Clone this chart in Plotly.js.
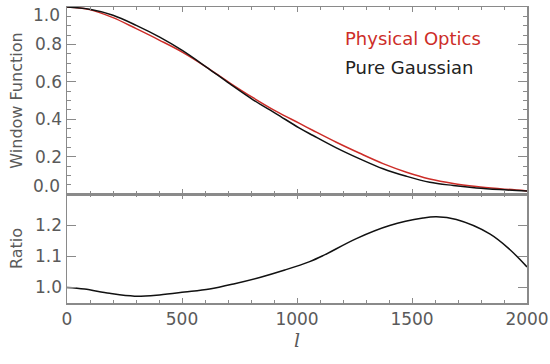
<!DOCTYPE html>
<html>
<head>
<meta charset="utf-8">
<script src="https://cdn.plot.ly/plotly-3.0.1.min.js"></script>
<style>
  html, body { margin: 0; padding: 0; background: #fff; }
  #chart { width: 550px; height: 364px; }
</style>
</head>
<body>
<div id="chart"></div>
<script>
// window functions
var ellTop = [0, 98, 200, 301, 403, 501, 606, 707, 809, 910, 1009, 1070, 1171, 1273, 1374, 1476, 1577, 1679, 1780, 1882, 2000];
var gaussian = [1.0, 0.988, 0.956, 0.902, 0.839, 0.768, 0.679, 0.590, 0.504, 0.429, 0.354, 0.313, 0.247, 0.188, 0.135, 0.095, 0.063, 0.046, 0.033, 0.024, 0.016];
var physOptics = [1.0, 0.986, 0.943, 0.884, 0.822, 0.759, 0.679, 0.595, 0.515, 0.442, 0.379, 0.340, 0.277, 0.218, 0.163, 0.117, 0.081, 0.057, 0.041, 0.029, 0.017];

// ratio
var ellRatio = [0, 76, 185, 294, 402, 511, 620, 729, 838, 947, 1055, 1113, 1258, 1403, 1548, 1606, 1693, 1838, 1925, 2000];
var ratio = [1.0, 0.995, 0.981, 0.972, 0.976, 0.985, 0.995, 1.012, 1.032, 1.056, 1.083, 1.102, 1.157, 1.199, 1.223, 1.227, 1.218, 1.172, 1.122, 1.066];

var seriesNames = ['Physical Optics', 'Pure Gaussian'];
var RED = 'rgb(205,45,40)';
var FRAME = '#8a8a8a';
var TEXT = '#5a5a5a';
var FONT = 'DejaVu Sans, sans-serif';

var tracePO = {
    x: ellTop, y: physOptics, xaxis: 'x2', yaxis: 'y2',
    type: 'scatter', mode: 'lines', line: { color: RED, width: 1.5, shape: 'spline', smoothing: 1 },
    name: seriesNames[0]
};
var traceG = {
    x: ellTop, y: gaussian, xaxis: 'x2', yaxis: 'y2',
    type: 'scatter', mode: 'lines', line: { color: '#111', width: 1.5, shape: 'spline', smoothing: 1 },
    name: seriesNames[1]
};
var traceRatio = {
    x: ellRatio, y: ratio, xaxis: 'x', yaxis: 'y',
    type: 'scatter', mode: 'lines', line: { color: '#111', width: 1.5, shape: 'spline', smoothing: 1 },
    name: 'Ratio'
};

var xBase = {
    range: [0, 2000], dtick: 500, ticks: 'inside', ticklen: 5, tickcolor: FRAME,
    minor: { dtick: 100, ticks: 'inside', ticklen: 3, tickcolor: FRAME },
    showline: true, linecolor: FRAME, linewidth: 1.5, mirror: 'allticks',
    showgrid: false, zeroline: false
};

var layout = {
    width: 550, height: 364,
    margin: { l: 67, r: 23, t: 7, b: 61 },
    paper_bgcolor: '#fff', plot_bgcolor: '#fff',
    showlegend: false,
    font: { family: FONT, size: 17, color: TEXT },
    xaxis: Object.assign({}, xBase, {
        anchor: 'y',
        title: { text: '<i>l</i>', standoff: 2, font: { family: 'DejaVu Serif, serif', size: 19, color: TEXT } }
    }),
    xaxis2: Object.assign({}, xBase, { anchor: 'y2', matches: 'x', showticklabels: false }),
    yaxis: {
        domain: [0, 0.368], anchor: 'x', range: [0.95, 1.3],
        tickvals: [1.0, 1.1, 1.2], ticktext: ['1.0', '1.1', '1.2'],
        ticks: 'inside', ticklen: 9, tickcolor: FRAME,
        showline: true, linecolor: FRAME, linewidth: 1.5, mirror: 'allticks',
        showgrid: false, zeroline: false,
        title: { text: 'Ratio', standoff: 8, font: { size: 16 } }
    },
    yaxis2: {
        domain: [0.368, 1], anchor: 'x2', range: [0, 1],
        tickvals: [0.2, 0.4, 0.6, 0.8], ticktext: ['0.2', '0.4', '0.6', '0.8'],
        ticks: 'inside', ticklen: 9, tickcolor: FRAME,
        minor: { dtick: 0.05, ticks: 'inside', ticklen: 4, tickcolor: FRAME },
        showline: true, linecolor: FRAME, linewidth: 1.5, mirror: 'allticks',
        showgrid: false, zeroline: false,
        title: { text: 'Window Function', standoff: 8, font: { size: 16 } }
    },
    annotations: [
        { xref: 'paper', yref: 'y2', x: 0, y: 1, xanchor: 'right', yanchor: 'middle', xshift: -5, yshift: -8,
          text: '1.0', showarrow: false },
        { xref: 'paper', yref: 'y2', x: 0, y: 0, xanchor: 'right', yanchor: 'middle', xshift: -5, yshift: 8,
          text: '0.0', showarrow: false },
        { xref: 'x2', yref: 'y2', x: 1200, y: 0.83, xanchor: 'left', yanchor: 'middle',
          text: seriesNames[0], showarrow: false, font: { size: 18, color: RED } },
        { xref: 'x2', yref: 'y2', x: 1200, y: 0.675, xanchor: 'left', yanchor: 'middle',
          text: seriesNames[1], showarrow: false, font: { size: 18, color: '#222' } }
    ]
};

Plotly.newPlot('chart', [tracePO, traceG, traceRatio], layout, { displayModeBar: false, staticPlot: true });
</script>
</body>
</html>
